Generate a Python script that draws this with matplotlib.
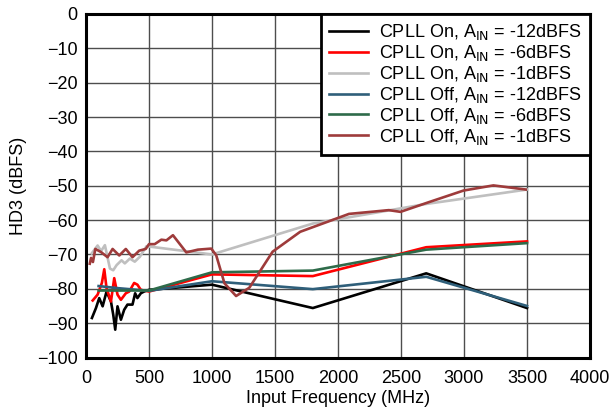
import numpy as np
import matplotlib
matplotlib.use('Agg')
import matplotlib.pyplot as plt

plt.rcParams['font.family'] = ['Liberation Sans', 'DejaVu Sans']

# CPLL On, AIN = -12dBFS
on12_f = [47, 79, 105, 132, 163, 198, 216, 232, 250, 277, 303, 329, 369, 390, 408, 435, 461, 500,
          1000, 1800, 2700, 3500]
on12_v = [-88.5, -85.6, -82.7, -85.1, -80.8, -83.7, -87.5, -91.9, -85.1, -89.0, -86.1, -84.6, -84.6,
          -81.3, -82.7, -81.3, -80.8, -80.3, -78.8, -85.6, -75.5, -85.6]
# CPLL On, AIN = -6dBFS
on6_f = [53, 92, 126, 145, 163, 198, 224, 250, 277, 316, 343, 382, 408, 435, 500,
         1000, 1800, 2700, 3500]
on6_v = [-83.4, -81.7, -78.3, -74.3, -79.8, -83.7, -76.9, -81.7, -83.2, -81.3, -80.8, -78.3, -78.8,
         -80.3, -80.8, -75.8, -76.3, -67.9, -66.2]
# CPLL On, AIN = -1dBFS
on1_f = [45, 92, 120, 150, 190, 216, 243, 282, 308, 348, 387, 427, 480, 1000, 1800, 2700, 3500]
on1_v = [-69.7, -67.4, -69.0, -67.3, -74.1, -74.6, -73.1, -71.7, -72.6, -71.2, -72.1, -70.7, -67.6,
         -70.0, -61.0, -55.3, -51.1]
# CPLL Off, AIN = -12dBFS
off12_f = [100, 250, 500, 1000, 1800, 2700, 3500]
off12_v = [-79.2, -79.8, -80.6, -77.8, -80.1, -76.5, -85.0]
# CPLL Off, AIN = -6dBFS
off6_f = [100, 250, 500, 1000, 1800, 2700, 3500]
off6_v = [-80.5, -80.5, -80.5, -75.2, -74.7, -68.6, -66.7]
# CPLL Off, AIN = -1dBFS
off1_f = [30, 40, 55, 74, 119, 171, 211, 264, 316, 369, 422, 474, 500, 545, 598, 638, 690, 796, 888,
          994, 1033, 1099, 1191, 1296, 1481, 1700, 2087, 2403, 2496, 2719, 2996, 3233, 3490]
off1_v = [-72.7, -71.0, -72.2, -68.4, -69.3, -70.8, -68.4, -70.3, -68.4, -70.8, -68.9, -68.4, -67.0,
          -67.0, -65.7, -65.9, -64.4, -69.4, -68.6, -68.3, -70.2, -78.4, -82.1, -79.7, -69.2, -63.4,
          -58.2, -57.1, -57.6, -54.8, -51.4, -49.9, -51.1]

series = [
    (on12_f, on12_v, 'black', 'CPLL On, A$_{\\mathrm{IN}}$ = -12dBFS'),
    (on6_f, on6_v, '#ff0000', 'CPLL On, A$_{\\mathrm{IN}}$ = -6dBFS'),
    (on1_f, on1_v, '#bfbfbf', 'CPLL On, A$_{\\mathrm{IN}}$ = -1dBFS'),
    (off12_f, off12_v, '#2f5f7a', 'CPLL Off, A$_{\\mathrm{IN}}$ = -12dBFS'),
    (off6_f, off6_v, '#2e6b4a', 'CPLL Off, A$_{\\mathrm{IN}}$ = -6dBFS'),
    (off1_f, off1_v, '#9e3b3b', 'CPLL Off, A$_{\\mathrm{IN}}$ = -1dBFS'),
]

fig = plt.figure(figsize=(6.13, 4.09), dpi=100)
ax = fig.add_axes([0.1403, 0.1259, 0.8222, 0.8399])

for f, v, c, lab in series:
    ax.plot(f, v, color=c, lw=1.9, label=lab)

ax.set_xlim(0, 4000)
ax.set_ylim(-100, 0)
ax.set_xticks(np.arange(0, 4001, 500))
ax.set_yticks(np.arange(-100, 1, 10))
ax.grid(True, color='0.3', lw=1)
ax.set_axisbelow(True)
ax.tick_params(length=0, labelsize=13)
ax.tick_params(axis='x', pad=9)
ax.tick_params(axis='y', pad=6)
for s in ax.spines.values():
    s.set_linewidth(2.2)

ax.set_xlabel('Input Frequency (MHz)', fontsize=13, labelpad=2)
ax.set_ylabel('HD3 (dBFS)', fontsize=13, labelpad=7)

leg = ax.legend(loc='upper right', fontsize=13, frameon=True, fancybox=False,
                borderaxespad=0, handlelength=2.2, handletextpad=0.6,
                labelspacing=0.05, borderpad=0.45)
leg.get_frame().set_edgecolor('black')
leg.get_frame().set_linewidth(2)
leg.get_frame().set_alpha(1)

fig.savefig('out.png', dpi=100)
